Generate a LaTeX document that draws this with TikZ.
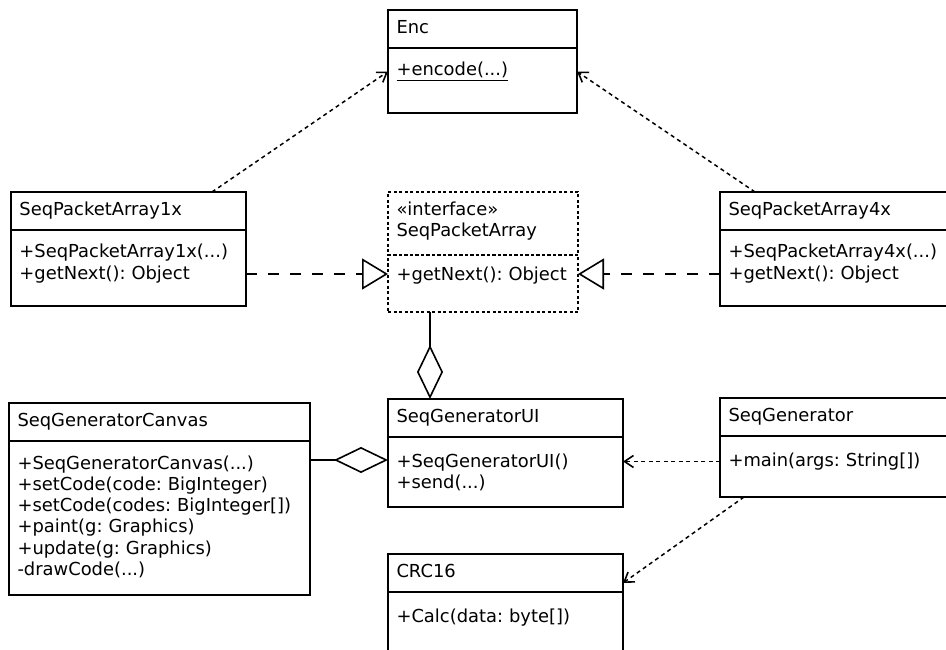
\documentclass[tikz,border=0pt]{standalone}
\usepackage{fontspec}
\setmainfont{DejaVu Sans}
\usetikzlibrary{arrows.meta,positioning}
\frenchspacing

\begin{document}
\begin{tikzpicture}[x=1pt, y=-1pt, line width=1.6pt,
    font=\fontsize{17.9pt}{21.3pt}\selectfont,
    head/.style={draw, anchor=north west, align=left, inner xsep=8.5pt, inner ysep=0pt, outer sep=0pt,
        text width=#1-17pt, text height=23.5pt, text depth=14.5pt},
    body/.style={draw, anchor=north, align=left, inner xsep=8.5pt, inner ysep=0pt, outer sep=0pt,
        text width=#1-17pt, text height=28pt},
    iface/.style={dash pattern=on 3pt off 2.5pt},
    real/.style={line width=1.5pt, dash pattern=on 11pt off 11pt, -{Triangle[open, line width=1.6pt, length=26pt, width=31pt]}},
    dep/.style={line width=1.5pt, dash pattern=on 4pt off 3.5pt, -{Straight Barb[line width=1.6pt, length=9pt, width=12pt]}},
    agg/.style={{Diamond[open, length=54pt, width=26pt]}-}]
    \path[fill=white, use as bounding box] (0,0) rectangle (946,650);

    % Enc on top
    \node[head=189pt] (enc) at (388,10) {Enc};
    \node[body=189pt, text depth=37pt, below=0pt of enc] (encB) {\underline{+encode(...)}};

    % the packet arrays
    \node[head=235pt] (p1) at (11,192) {SeqPacketArray1x};
    \node[body=235pt, text depth=48pt, below=0pt of p1] (p1B) {+SeqPacketArray1x(...)\\+getNext(): Object};
    \node[head=190pt, iface, text height=23pt, text depth=40pt] (if) at (388,192) {«interface»\\SeqPacketArray};
    \node[body=190pt, iface, text height=25pt, text depth=32pt, below=0pt of if] (ifB) {+getNext(): Object};
    \node[head=235pt] (p4) at (720,192) {SeqPacketArray4x};
    \node[body=235pt, text depth=48pt, below=0pt of p4] (p4B) {+SeqPacketArray4x(...)\\+getNext(): Object};

    % the generator classes
    \node[head=301pt] (canv) at (9,403) {SeqGeneratorCanvas};
    \node[body=301pt, text depth=126pt, below=0pt of canv] (canvB) {+SeqGeneratorCanvas(...)\\+setCode(code: BigInteger)\\+setCode(codes: BigInteger[])\\+paint(g: Graphics)\\+update(g: Graphics)\\-drawCode(...)};
    \node[head=235pt] (ui) at (388,399) {SeqGeneratorUI};
    \node[body=235pt, text height=30pt, text depth=40pt, below=0pt of ui] (uiB) {+SeqGeneratorUI()\\+send(...)};
    \node[head=235pt] (gen) at (720,398) {SeqGenerator};
    \node[body=235pt, text height=30pt, text depth=31pt, below=0pt of gen] (genB) {+main(args: String[])};
    \node[head=235pt] (crc) at (388,554) {CRC16};
    \node[body=235pt, text height=30pt, text depth=60pt, below=0pt of crc] (crcB) {+Calc(data: byte[])};

    % realizations
    \draw[real] ([yshift=-6pt]p1B.east) -- ([yshift=-6pt]p1B.east -| ifB.west);
    \draw[real] ([yshift=-6pt]p4B.west) -- ([yshift=-6pt]p4B.west -| ifB.east);

    % aggregations
    \draw[agg] ([xshift=42pt]ui.north west) -- ([xshift=42pt]ui.north west |- ifB.south);
    \draw[agg] ([yshift=-23pt]uiB.north west) -- ([yshift=-23pt]uiB.north west -| canvB.east);

    % dependencies
    \draw[dep] ([xshift=201pt]p1.north west) -- ([yshift=9pt]encB.west);
    \draw[dep] ([xshift=35pt]p4.north west) -- ([yshift=9pt]encB.east);
    \draw[dep] ([yshift=5pt]genB.west) -- ([yshift=5pt]genB.west -| uiB.east);
    \draw[dep] ([xshift=24pt]genB.south west) -- ([yshift=-10pt]crc.east);
\end{tikzpicture}
\end{document}
